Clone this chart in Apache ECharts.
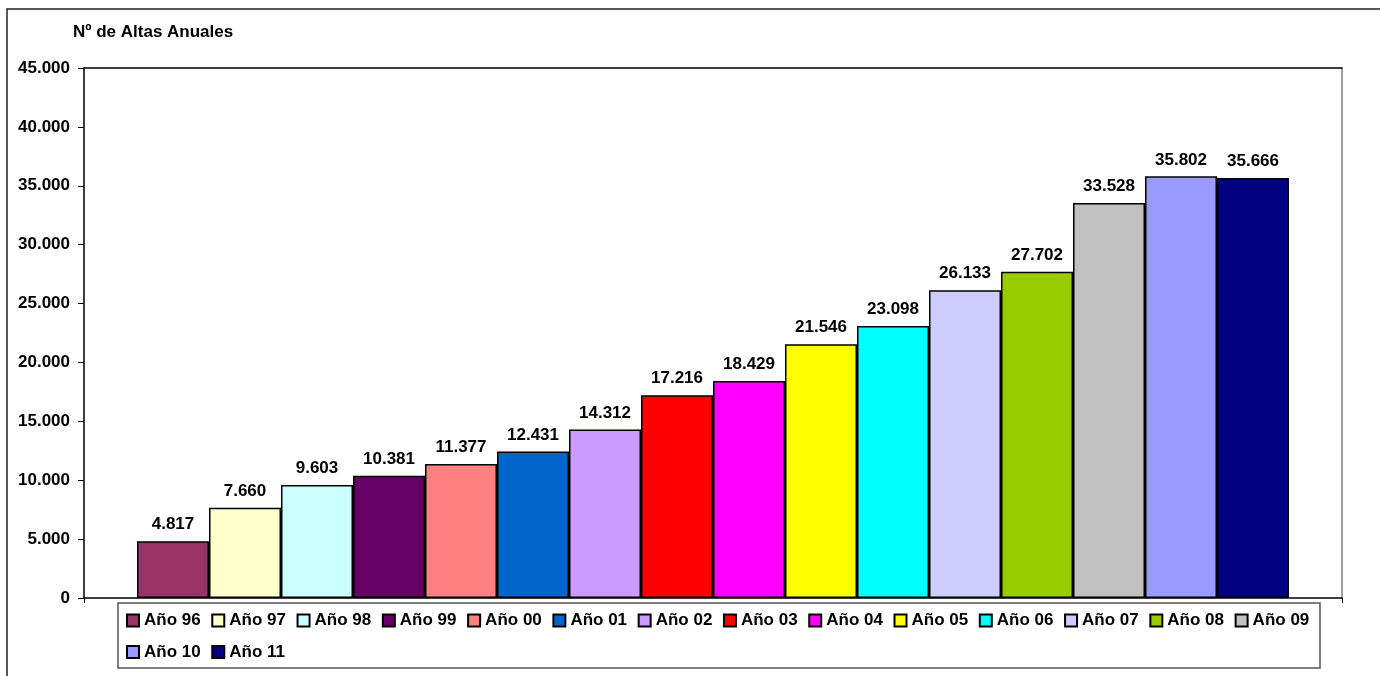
<!DOCTYPE html>
<html>
<head>
<meta charset="utf-8">
<script src="https://cdn.jsdelivr.net/npm/echarts@6/dist/echarts.min.js"></script>
<style>
html,body{margin:0;padding:0;background:#fff;}
#chart{width:1380px;height:676px;}
</style>
</head>
<body>
<div id="chart"></div>
<script>
const years = ['Año 96','Año 97','Año 98','Año 99','Año 00','Año 01','Año 02','Año 03','Año 04','Año 05','Año 06','Año 07','Año 08','Año 09','Año 10','Año 11'];
const altas = [4817, 7660, 9603, 10381, 11377, 12431, 14312, 17216, 18429, 21546, 23098, 26133, 27702, 33528, 35802, 35666];
const colors = ['#993366','#FFFFCC','#CCFFFF','#660066','#FF8080','#0066CC','#CC99FF','#FF0000','#FF00FF','#FFFF00','#00FFFF','#CCCCFF','#99CC00','#C0C0C0','#9999FF','#000080'];
const yTicks = [0, 5000, 10000, 15000, 20000, 25000, 30000, 35000, 40000, 45000];
const titleText = 'Nº de Altas Anuales';

const FONT = '"Liberation Sans", Arial, sans-serif';
function fmt(v){ return String(v).replace(/\B(?=(\d{3})+(?!\d))/g, '.'); }

const chart = echarts.init(document.getElementById('chart'), null, {renderer:'canvas'});

const series = years.map((name, i) => ({
  name: name,
  type: 'bar',
  data: [altas[i]],
  barWidth: 72,
  barGap: '0%',
  itemStyle: { color: colors[i], borderColor: '#000', borderWidth: 1.5 },
  label: {
    show: true, position: 'top', distance: 8,
    formatter: p => fmt(p.value),
    color: '#000', fontFamily: FONT, fontWeight: 'bold', fontSize: 17
  },
  emphasis: { disabled: true }
}));

chart.setOption({
  animation: false,
  backgroundColor: '#fff',
  title: {
    text: titleText, left: 73, top: 24, padding: 0,
    textStyle: { fontFamily: FONT, fontWeight: 'bold', fontSize: 17, color: '#000' }
  },
  graphic: [
    { type: 'rect', shape: { x: 7, y: 9, width: 1420, height: 720 }, style: { fill: 'none', stroke: '#222', lineWidth: 1.5 }, z: -1 },
    { type: 'rect', shape: { x: 118, y: 603, width: 1202, height: 65 }, style: { fill: '#fff', stroke: '#555', lineWidth: 1.5 }, z: -1 }
  ],
  legend: {
    data: years,
    left: 126, top: 610, width: 1230, padding: 0,
    itemGap: 10.6, itemWidth: 12, itemHeight: 12,
    icon: 'rect',
    textStyle: { fontFamily: FONT, fontWeight: 'bold', fontSize: 17, lineHeight: 21, color: '#000' },
    selectedMode: false
  },
  grid: { left: 84, top: 68, right: 38, bottom: 78, show: false, containLabel: false },
  xAxis: [
    {
      type: 'category', data: [''], position: 'bottom',
      axisLine: { show: true, onZero: false, lineStyle: { color: '#000', width: 1.5 } },
      axisTick: { show: true, length: 5, lineStyle: { color: '#000', width: 1 } },
      axisLabel: { show: false }, splitLine: { show: false }
    },
    {
      type: 'category', data: [''], position: 'top',
      axisLine: { show: true, onZero: false, lineStyle: { color: '#000', width: 1.5 } },
      axisTick: { show: false }, axisLabel: { show: false }, splitLine: { show: false }
    }
  ],
  yAxis: [
    {
      type: 'value', min: yTicks[0], max: yTicks[yTicks.length-1], interval: yTicks[1]-yTicks[0],
      axisLine: { show: true, onZero: false, lineStyle: { color: '#000', width: 1.5 } },
      axisTick: { show: true, length: 6, lineStyle: { color: '#000', width: 1 } },
      axisLabel: { margin: 14, formatter: v => fmt(v), fontFamily: FONT, fontWeight: 'bold', fontSize: 17, color: '#000' },
      splitLine: { show: false }
    },
    {
      type: 'value', position: 'right', min: yTicks[0], max: yTicks[yTicks.length-1], interval: yTicks[1]-yTicks[0],
      axisLine: { show: true, onZero: false, lineStyle: { color: '#808080', width: 1.5 } },
      axisTick: { show: false }, axisLabel: { show: false }, splitLine: { show: false }
    }
  ],
  series: series
});
</script>
</body>
</html>
